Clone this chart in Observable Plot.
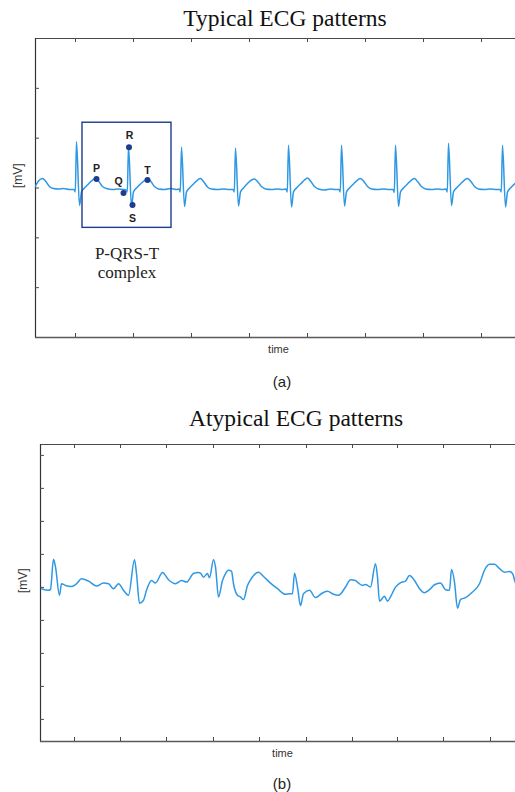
<!DOCTYPE html>
<html><head><meta charset="utf-8">
<script src="https://cdn.jsdelivr.net/npm/d3@7"></script>
<script src="https://cdn.jsdelivr.net/npm/@observablehq/plot@0.6"></script>
<style>
html,body{margin:0;padding:0;width:515px;height:792px;overflow:hidden;background:#fff;}
#root{position:relative;width:515px;height:792px;overflow:hidden;}
.title{position:absolute;font-family:"Liberation Serif","Times New Roman",serif;font-size:23.5px;color:#111;white-space:nowrap;transform:translate(-50%,-50%);}
.cap{position:absolute;font-family:"Liberation Sans",Arial,sans-serif;font-size:15px;color:#222;white-space:nowrap;transform:translate(-50%,-50%);}
.panel{position:absolute;left:0;width:560px;}
.panel svg{max-width:none !important;display:block;}
</style></head>
<body><div id="root">
<div class="title" style="left:285px;top:18px">Typical ECG patterns</div>
<div class="panel" id="pa" style="top:28px"></div>
<div class="cap" style="left:282px;top:381px">(a)</div>
<div class="title" style="left:296px;top:418px">Atypical ECG patterns</div>
<div class="panel" id="pb" style="top:434px"></div>
<div class="cap" style="left:282px;top:783px">(b)</div>
</div>
<script>
// ---- data: typical ECG (sample index, mV) ----
const typicalTrace = [
[0,0.04],[3,0.14],[7,0.19],[10,0.14],[14,0.03],[18,-0.01],[23,-0.02],[28,-0.01],[34,-0.03],
[38.5,-0.03],[39.8,-0.08],[41,0.93],[44,-0.35],[46,-0.08],[49,0.0],[53,0.08],[57,0.16],[60,0.19],[63,0.14],[67,0.03],[71,-0.01],[77,-0.03],[83,-0.02],[88,-0.03],
[90.5,-0.04],[91.8,-0.08],[93,0.83],[96,-0.37],[98,-0.08],[101,0.0],[105,0.08],[109,0.15],[112,0.18],[115,0.14],[119,0.03],[123,-0.02],[129,-0.03],[135,-0.01],[141,-0.03],
[143.5,-0.02],[144.8,-0.08],[146,0.82],[149,-0.37],[151,-0.08],[154,0.0],[158,0.08],[162,0.16],[165,0.19],[168,0.13],[172,0.02],[176,-0.02],[182,-0.03],[188,-0.02],[194,-0.03],
[197.5,-0.03],[198.8,-0.08],[200,0.80],[203,-0.36],[205,-0.08],[208,0.0],[212,0.09],[216,0.16],[219,0.18],[222,0.13],[226,0.03],[230,-0.02],[236,-0.03],[242,-0.02],[247,-0.03],
[250.5,-0.02],[251.8,-0.08],[253,0.86],[256,-0.38],[258,-0.08],[261,0.0],[265,0.08],[269,0.16],[272,0.2],[275,0.14],[279,0.03],[283,-0.02],[289,-0.04],[295,-0.02],[300,-0.03],
[303.5,-0.03],[304.8,-0.08],[306,0.86],[309,-0.36],[311,-0.08],[314,0.0],[318,0.08],[322,0.16],[325,0.19],[328,0.14],[332,0.03],[336,-0.02],[342,-0.03],[348,-0.02],[354,-0.03],
[357.5,-0.03],[358.8,-0.09],[360,0.86],[363,-0.37],[365,-0.08],[368,0.0],[372,0.08],[376,0.16],[379,0.19],[382,0.13],[386,0.03],[390,-0.02],[396,-0.03],[402,-0.02],[407,-0.03],
[410.5,-0.02],[411.8,-0.08],[413,0.9],[416,-0.35],[418,-0.08],[421,0.0],[425,0.08],[429,0.16],[432,0.19],[435,0.14],[439,0.03],[443,-0.02],[449,-0.03],[455,-0.02],[461,-0.03],
[464.5,-0.03],[465.8,-0.08],[467,0.86],[470,-0.38],[472,-0.08],[475,0.0],[479,0.08],[483,0.15],[486,0.19]
];
// wave landmarks (P, Q, R, S, T) on the highlighted complex
const waveNames = ["P","Q","R","S","T"];
const wavePointT = [61, 88, 93.5, 97, 112];
const wavePointMv = [0.18, -0.1, 0.82, -0.34, 0.16];
const waveLabelT = [61, 83, 94, 97, 112];
const waveLabelMv = [0.38, 0.12, 1.05, -0.62, 0.34];
// highlighted complex box [t1, t2, mv1, mv2]
const complexBox = [47, 136, -0.80, 1.31];
const complexLabel = ["P-QRS-T", "complex"];
const complexLabelAt = [91.5, -1.49];
const typicalTicksT = [40, 98, 156, 214, 272, 330, 388, 446];
const typicalTicksMv = [-2, -1, 0, 1, 2];

// ---- data: atypical ECG (sample index, mV) ----
const atypicalTrace = [
[1,-0.04],[8,-0.09],[10,-0.06],[13,0.85],[15,0.62],[19,-0.24],[21,0.11],[25,0.06],[31,0.03],[36,0.11],[41,0.26],[48,0.19],[56,0.04],[63,0.13],[68,0.11],[73,-0.04],[78,0.11],[83,-0.09],[88,-0.24],
[94,0.84],[96,0.42],[99,-0.48],[103,-0.39],[106,-0.09],[111,0.21],[115,0.13],[122,0.45],[128,0.23],[135,0.11],[141,0.21],[146,0.16],[153,0.42],[158,0.45],[160,0.43],[163,0.31],[167,0.42],[169,0.29],
[173,0.84],[175,0.62],[178,-0.29],[182,0.21],[185,0.42],[188,0.52],[191,0.49],[193,0.11],[197,-0.24],[200,-0.29],[203,-0.37],[207,0.06],[210,0.23],[218,0.46],[223,0.33],[230,0.13],[237,-0.04],[245,-0.21],[249,-0.19],[252,-0.19],
[254,0.43],[257,0.01],[260,-0.55],[263,-0.19],[269,-0.09],[275,-0.31],[282,-0.17],[287,-0.12],[293,-0.21],[298,-0.24],[305,0.01],[310,0.23],[315,0.21],[317,0.16],[322,0.06],[325,0.09],[330,0.01],
[335,0.72],[337,0.31],[339,-0.42],[344,-0.27],[347,-0.42],[350,-0.29],[355,0.01],[360,0.14],[365,0.19],[369,0.36],[374,0.21],[379,-0.04],[384,-0.16],[389,-0.07],[394,0.08],[400,0.13],[405,-0.07],[409,-0.09],
[411,0.54],[414,0.16],[417,-0.63],[420,-0.37],[425,-0.31],[432,-0.14],[439,0.11],[444,0.52],[449,0.70],[454,0.70],[459,0.57],[464,0.46],[469,0.48],[472,0.42],[475,0.13],[480,-0.1]
];
const atypicalTicksT = [34, 80, 126, 173, 219, 266, 312, 357, 403, 450];
const atypicalTicksMv = [-4, -3, -2, -1, 0, 1, 2, 3, 4];

const traceColor = "#2f98e4";
const navy = "#1c3c8c";
const axisColor = "#4a4a4a";
const sans = "'Liberation Sans', Arial, sans-serif";
const serif = "'Liberation Serif', 'Times New Roman', serif";

function framedPanel({width, height, mL, mT, mB, xDom, yDom, ticksT, ticksMv, extra}) {
  const ph = height - mT - mB;
  const pw = width - mL;
  return Plot.plot({
    width, height, marginLeft: mL, marginRight: 0, marginTop: mT, marginBottom: mB,
    x: {domain: xDom, axis: null},
    y: {domain: yDom, axis: null},
    style: {background: "transparent", overflow: "visible"},
    marks: [
      Plot.ruleY([yDom[0]], {stroke: "#5a5a5a", strokeWidth: 1.6}),
      Plot.ruleY([yDom[1]], {stroke: axisColor, strokeWidth: 1.2}),
      Plot.ruleX([xDom[0]], {stroke: "#333", strokeWidth: 1.2}),
      Plot.tickX(ticksT, {x: d => d, insetTop: ph - 4, stroke: axisColor, strokeWidth: 1}),
      Plot.tickX(ticksT, {x: d => d, insetBottom: ph - 4, stroke: axisColor, strokeWidth: 1}),
      Plot.tickY(ticksMv, {y: d => d, insetRight: pw - 4, stroke: axisColor, strokeWidth: 1}),
      ...extra,
      Plot.text(["time"], {text: d => d, frameAnchor: "bottom", dy: 15, fontSize: 11, fill: "#333", fontFamily: sans}),
      Plot.text(["[mV]"], {text: d => d, frameAnchor: "left", dx: -17, rotate: -90, fontSize: 12, fill: "#333", fontFamily: sans})
    ]
  });
}

const waves = waveNames.map((n, i) => ({n, t: wavePointT[i], mv: wavePointMv[i], lt: waveLabelT[i], lmv: waveLabelMv[i]}));

const plotA = framedPanel({
  width: 521, height: 334, mL: 35, mT: 10, mB: 25,
  xDom: [0, 486], yDom: [-3, 3],
  ticksT: typicalTicksT, ticksMv: typicalTicksMv,
  extra: [
    Plot.line(typicalTrace, {x: d => d[0], y: d => d[1], stroke: traceColor, strokeWidth: 1.5, curve: "monotone-x", clip: true}),
    Plot.rect([complexBox], {x1: d => d[0], x2: d => d[1], y1: d => d[2], y2: d => d[3], fill: "none", stroke: navy, strokeWidth: 1.4}),
    Plot.dot(waves, {x: "t", y: "mv", r: 3, fill: navy}),
    Plot.text(waves, {x: "lt", y: "lmv", text: "n", fontSize: 10.5, fontWeight: "bold", fill: "#222", fontFamily: sans}),
    Plot.text([complexLabel.join("\n")], {x: complexLabelAt[0], y: complexLabelAt[1], text: d => d, fontSize: 17, lineHeight: 1.1, fill: "#222", fontFamily: serif})
  ]
});
document.getElementById("pa").appendChild(plotA);

const plotB = framedPanel({
  width: 524, height: 332, mL: 40, mT: 10, mB: 25,
  xDom: [0, 484], yDom: [-4.67, 4.33],
  ticksT: atypicalTicksT, ticksMv: atypicalTicksMv,
  extra: [
    Plot.line(atypicalTrace, {x: d => d[0], y: d => d[1], stroke: traceColor, strokeWidth: 1.5, curve: "monotone-x", clip: true})
  ]
});
document.getElementById("pb").appendChild(plotB);
</script>
</body></html>
